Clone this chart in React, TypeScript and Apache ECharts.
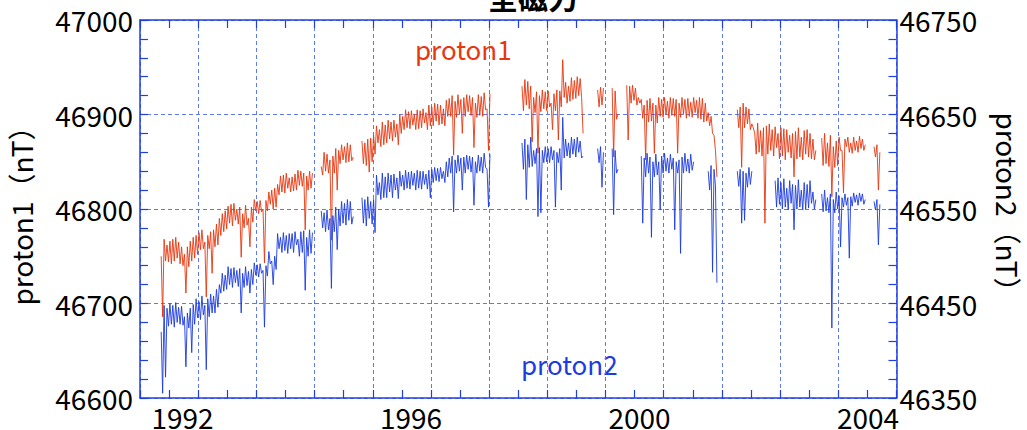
import React, { useEffect, useRef } from "react";
import * as echarts from "echarts";

// sampling grid of the digitised record (decimal years)
const T0 = 1991.364;
const DT = 0.05;

// proton1 total force (nT), left axis: first reading of each interval
const proton1: (number | null)[] = [
  46686, 46745, 46762, 46742, 46768, 46748, 46765, 46740, 46711, 46760,
  46745, 46770, 46752, 46775, 46758, 46707, 46772, 46732, 46778, 46762,
  46790, 46776, 46798, 46785, 46805, 46788, 46800, 46749, 46795, 46783,
  46760, 46802, 46798, 46808, 46797, 46743, 46809, 46805, 46820, 46802,
  46826, 46818, 46836, 46822, 46833, 46819, 46837, 46825, 46840, 46778,
  46835, 46822, 46838, null, null, 46845, 46860, 46838, 46767, 46856,
  46820, 46862, 46852, 46866, 46850, 46868, 46855, null, null, 46848,
  46870, 46839, 46875, 46858, 46870, 46884, 46868, 46889, 46874, 46892,
  46876, 46890, 46880, 46898, 46886, 46903, 46889, 46900, 46885, 46904,
  46891, 46902, 46888, 46908, 46893, 46911, 46890, 46906, 46898, 46917,
  46857, 46914, 46900, 46880, 46918, 46903, 46920, 46865, 46912, 46899,
  46919, 46905, 46862, 46922, null, null, null, null, null, null,
  null, null, null, null, 46930, 46910, 46935, 46871, 46918, 46859,
  46920, 46906, 46924, 46908, 46884, 46922, 46873, 46925, 46958, 46912,
  46930, 46916, 46936, 46920, 46938, 46880, null, null, null, null,
  46926, 46910, 46928, null, null, 46855, 46925, 46900, null, null,
  46873, 46930, 46915, 46928, 46912, 46896, 46852, 46915, 46893, 46859,
  46910, 46898, 46916, 46900, 46914, 46899, 46917, 46859, 46912, 46900,
  46916, 46898, 46913, 46902, 46915, 46895, 46917, 46893, 46902, 46880,
  46862, 46834, null, null, null, null, null, null, 46905, 46844,
  46912, 46890, 46906, 46886, 46880, 46860, 46883, 46785, 46888, 46862,
  46884, 46865, 46880, 46856, 46885, 46860, 46878, 46834, 46882, 46855,
  46876, 46858, 46884, 46853, 46874, 46862, null, 46875, 46848, 46870,
  46813, 46866, 46846, 46862, 46817, 46866, 46860, 46870, 46862, 46872,
  46864, 46874, 46868, null, null, 46866, 46820, 46860,
];

// proton1: second reading of each interval
const proton1Mid: (number | null)[] = [
  46750, 46768, 46744, 46766, 46745, 46770, 46742, 46760, 46752, 46739,
  46766, 46748, 46772, 46757, 46778, 46765, 46758, 46776, 46760, 46784,
  46772, 46795, 46779, 46803, 46782, 46806, 46784, 46802, 46780, 46804,
  46790, 46786, 46810, 46795, 46809, 46800, 46798, 46818, 46800, 46822,
  46815, 46835, 46817, 46838, 46818, 46834, 46820, 46841, 46824, 46838,
  46820, 46840, null, null, null, 46836, 46840, 46858, 46852, 46838,
  46864, 46848, 46868, 46849, 46870, 46851, null, null, null, 46872,
  46846, 46874, 46850, 46878, 46888, 46866, 46892, 46870, 46894, 46872,
  46894, 46868, 46900, 46884, 46905, 46885, 46904, 46884, 46905, 46886,
  46906, 46884, 46910, 46888, 46912, 46889, 46910, 46888, 46915, 46898,
  46920, 46897, 46921, 46916, 46898, 46921, 46899, 46918, 46897, 46921,
  46898, 46923, 46906, null, null, null, null, null, null, null,
  null, null, null, null, 46904, 46937, 46906, 46930, 46902, 46924,
  46903, 46926, 46904, 46925, 46912, 46904, 46926, 46908, 46918, 46934,
  46914, 46939, 46917, 46940, 46918, null, null, null, null, null,
  46908, 46929, null, null, null, 46928, 46895, null, null, null,
  46931, 46912, 46931, 46910, 46918, 46916, 46910, 46892, 46917, 46912,
  46891, 46918, 46897, 46918, 46896, 46918, 46898, 46916, 46897, 46918,
  46896, 46917, 46897, 46918, 46896, 46918, 46892, 46912, 46888, 46898,
  46878, null, null, null, null, null, null, null, 46886, 46908,
  46886, 46908, 46884, 46890, 46858, 46891, 46856, 46886, 46858, 46890,
  46856, 46887, 46853, 46886, 46852, 46884, 46854, 46880, 46853, 46886,
  46852, 46883, 46855, 46880, 46852, null, null, 46846, 46880, 46845,
  46878, 46844, 46872, 46876, 46862, 46874, 46876, 46859, 46876, 46860,
  46877, 46862, null, null, null, 46855, 46868,
];

// proton2 total force (nT), right axis: first reading of each interval
const proton2: (number | null)[] = [
  46355, 46372, 46445, 46428, 46448, 46430, 46446, 46427, 46383, 46440,
  46398, 46449, 46435, 46452, 46438, 46380, 46455, 46440, 46458, 46446,
  46470, 46463, 46480, 46470, 46487, 46472, 46485, 46440, 46482, 46469,
  46461, 46486, 46480, 46491, 46482, 46425, 46490, 46492, 46470, 46500,
  46508, 46520, 46506, 46522, 46508, 46524, 46512, 46518, 46526, 46464,
  46520, 46503, 46525, null, null, 46530, 46546, 46528, 46466, 46543,
  46507, 46550, 46535, 46556, 46538, 46558, 46542, null, null, 46535,
  46560, 46540, 46558, 46525, 46565, 46578, 46562, 46584, 46568, 46586,
  46570, 46583, 46574, 46586, 46572, 46589, 46575, 46588, 46572, 46590,
  46576, 46587, 46562, 46592, 46580, 46593, 46582, 46590, 46584, 46604,
  46547, 46602, 46590, 46570, 46605, 46592, 46606, 46554, 46600, 46590,
  46605, 46594, 46552, 46608, null, null, null, null, null, null,
  null, null, null, null, 46620, 46560, 46618, 46595, 46612, 46542,
  46546, 46612, 46600, 46614, 46602, 46552, 46610, 46570, 46647, 46606,
  46620, 46608, 46624, 46610, 46622, 46606, null, null, null, null,
  46614, 46573, 46610, null, null, 46544, 46612, 46592, null, null,
  null, null, null, null, null, 46535, 46604, 46588, 46520, 46600,
  46586, 46549, 46606, 46590, 46604, 46592, 46528, 46600, 46503, 46605,
  46590, 46603, 46591, 46600, null, null, null, null, 46590, 46483,
  46575, 46472, null, null, null, null, null, null, 46590, 46535,
  46538, 46588, 46576, 46590, null, null, null, null, null, null,
  null, 46580, 46555, 46578, 46552, 46572, 46556, 46528, 46575, 46552,
  46570, 46550, 46576, 46556, 46568, 46560, null, 46566, 46548, 46562,
  46424, 46560, 46550, 46510, 46562, 46554, 46498, 46563, 46557, 46565,
  46558, 46566, 46560, null, null, 46558, 46512, 46555,
];

// proton2: second reading of each interval
const proton2Mid: (number | null)[] = [
  46420, 46448, 46426, 46450, 46425, 46451, 46428, 46447, 46436, 46424,
  46445, 46428, 46455, 46433, 46458, 46448, 46436, 46460, 46440, 46465,
  46461, 46482, 46465, 46489, 46467, 46488, 46468, 46487, 46467, 46489,
  46484, 46470, 46493, 46478, 46492, 46485, 46479, 46505, 46495, 46486,
  46524, 46504, 46525, 46503, 46524, 46504, 46526, 46500, 46504, 46527,
  46500, 46528, null, null, null, 46548, 46526, 46549, 46540, 46526,
  46552, 46532, 46558, 46533, 46560, 46534, null, null, null, 46562,
  46532, 46563, 46534, 46560, 46586, 46560, 46588, 46562, 46588, 46562,
  46587, 46561, 46590, 46570, 46591, 46571, 46590, 46570, 46591, 46571,
  46590, 46571, 46591, 46578, 46594, 46579, 46594, 46578, 46600, 46588,
  46606, 46588, 46607, 46604, 46588, 46607, 46589, 46605, 46588, 46607,
  46588, 46609, 46592, null, null, null, null, null, null, null,
  null, null, null, null, 46592, 46624, 46594, 46626, 46598, 46614,
  46615, 46599, 46616, 46599, 46616, 46612, 46599, 46614, 46604, 46624,
  46604, 46626, 46605, 46626, 46604, null, null, null, null, null,
  46599, 46616, null, null, null, 46614, 46588, null, null, null,
  null, null, null, null, null, 46606, 46584, 46609, 46605, 46584,
  46608, 46600, 46588, 46609, 46588, 46608, 46604, 46588, 46602, 46588,
  46609, 46588, 46608, null, null, null, null, null, 46570, 46596,
  46592, null, null, null, null, null, null, null, 46574, 46592,
  46590, 46573, 46594, null, null, null, null, null, null, null,
  null, 46552, 46583, 46550, 46582, 46549, 46580, 46576, 46550, 46581,
  46549, 46578, 46551, 46580, 46550, null, null, 46547, 46570, 46546,
  46566, 46546, 46568, 46564, 46552, 46566, 46562, 46553, 46567, 46554,
  46567, 46555, null, null, null, 46549, 46560,
];

const yearLabels = [1992, 1996, 2000, 2004];
const xRange = [1991, 2004];
const labelYearRange = [1991.256, 2004.499];
const leftRange = [46600, 47000];
const rightRange = [46350, 46750];

const RED = "#e8360e";
const BLUE = "#1c3be0";
const AXIS = "#1f3fe6";
const GRID = "#6078ee";
const FONT = '"Noto Sans CJK JP", "Noto Sans", sans-serif';

// each interval is drawn as its higher reading followed by its lower one
function buildEnvelope(a: (number | null)[], b: (number | null)[]) {
  const out: (number | string)[][] = [];
  a.forEach((v, i) => {
    const w = i < b.length ? b[i] : null;
    const t = T0 + i * DT;
    const t2 = t + DT / 2;
    if (v === null && w === null) {
      out.push([t, "-"]);
    } else if (v === null) {
      out.push([t, "-"]);
      out.push([t2, w as number]);
    } else if (w === null) {
      out.push([t, v]);
      out.push([t2, "-"]);
    } else {
      out.push([t, Math.max(v, w)]);
      out.push([t2, Math.min(v, w)]);
    }
  });
  return out;
}

export default function App() {
  const ref = useRef<HTMLDivElement>(null);
  useEffect(() => {
    if (!ref.current) return;
    const chart = echarts.init(ref.current, undefined, { renderer: "svg" });

    const tickCommon = {
      axisLine: { show: true, onZero: false, lineStyle: { color: AXIS, width: 1.5 } },
      axisTick: { show: true, inside: true, length: 8, lineStyle: { color: AXIS, width: 1.2 } },
      minorTick: { show: true, length: 8, lineStyle: { color: AXIS, width: 1.2 } },
    };
    const plain = (v: number) => String(v);

    chart.setOption({
      animation: false,
      backgroundColor: "#fff",
      textStyle: { fontFamily: FONT },
      grid: {
        left: 140,
        right: 130.5,
        top: 20,
        bottom: 32,
        containLabel: false,
        outerBoundsMode: "none",
      },
      xAxis: [
        {
          type: "value",
          position: "bottom",
          min: xRange[0],
          max: xRange[1],
          interval: 1,
          ...tickCommon,
          minorTick: { ...tickCommon.minorTick, splitNumber: 2 },
          axisLabel: { show: false },
          splitLine: { show: true, lineStyle: { color: GRID, type: [4, 3], width: 1 } },
        },
        {
          type: "value",
          position: "top",
          min: xRange[0],
          max: xRange[1],
          interval: 1,
          ...tickCommon,
          minorTick: { ...tickCommon.minorTick, splitNumber: 2 },
          axisLabel: { show: false },
          splitLine: { show: false },
        },
        {
          type: "value",
          position: "bottom",
          min: labelYearRange[0],
          max: labelYearRange[1],
          axisLine: { show: false, onZero: false },
          axisTick: { show: false },
          splitLine: { show: false },
          axisLabel: {
            show: true,
            customValues: yearLabels,
            formatter: (v: number) => String(Math.round(v)),
            color: "#000",
            fontSize: 28,
            lineHeight: 20,
            fontFamily: FONT,
            margin: 9,
          },
        },
      ],
      yAxis: [
        {
          type: "value",
          position: "left",
          min: leftRange[0],
          max: leftRange[1],
          interval: 100,
          ...tickCommon,
          minorTick: { ...tickCommon.minorTick, splitNumber: 5 },
          splitLine: { show: true, lineStyle: { color: GRID, type: [4, 3], width: 1 } },
          axisLabel: { color: "#000", fontSize: 28, fontFamily: FONT, margin: 7, formatter: plain },
          name: "proton1（nT）",
          nameLocation: "middle",
          nameRotate: 90,
          nameGap: 105,
          nameTextStyle: { color: "#000", fontSize: 28, fontFamily: FONT },
        },
        {
          type: "value",
          position: "right",
          min: rightRange[0],
          max: rightRange[1],
          interval: 100,
          ...tickCommon,
          minorTick: { ...tickCommon.minorTick, splitNumber: 5 },
          splitLine: { show: false },
          axisLabel: { color: "#000", fontSize: 28, fontFamily: FONT, margin: 3, formatter: plain },
          name: "proton2（nT）",
          nameLocation: "middle",
          nameRotate: -90,
          nameGap: 97,
          nameTextStyle: { color: "#000", fontSize: 28, fontFamily: FONT },
        },
      ],
      series: [
        {
          name: "proton1",
          type: "line",
          xAxisIndex: 0,
          yAxisIndex: 0,
          data: buildEnvelope(proton1, proton1Mid),
          showSymbol: false,
          symbol: "none",
          connectNulls: false,
          lineStyle: { color: RED, width: 1, opacity: 0.9 },
          z: 3,
        },
        {
          name: "proton2",
          type: "line",
          xAxisIndex: 0,
          yAxisIndex: 1,
          data: buildEnvelope(proton2, proton2Mid),
          showSymbol: false,
          symbol: "none",
          connectNulls: false,
          lineStyle: { color: BLUE, width: 1, opacity: 0.9 },
          z: 3,
        },
      ],
      graphic: [
        {
          type: "text",
          x: 533,
          y: -4,
          style: {
            text: "全磁力",
            font: 'bold 30px "Noto Sans CJK JP"',
            fill: "#000",
            align: "center",
            verticalAlign: "middle",
            textAlign: "center",
            textVerticalAlign: "middle",
          },
        },
        {
          type: "text",
          x: 415,
          y: 48,
          style: {
            text: "proton1",
            font: '26px "Noto Sans CJK JP"',
            fill: RED,
            align: "left",
            verticalAlign: "middle",
            textAlign: "left",
            textVerticalAlign: "middle",
          },
        },
        {
          type: "text",
          x: 521,
          y: 363,
          style: {
            text: "proton2",
            font: '26px "Noto Sans CJK JP"',
            fill: BLUE,
            align: "left",
            verticalAlign: "middle",
            textAlign: "left",
            textVerticalAlign: "middle",
          },
        },
      ],
    });
    return () => chart.dispose();
  }, []);
  return (
    <div
      ref={ref}
      style={{ position: "fixed", left: 0, top: 0, width: 1027, height: 430 }}
    />
  );
}
